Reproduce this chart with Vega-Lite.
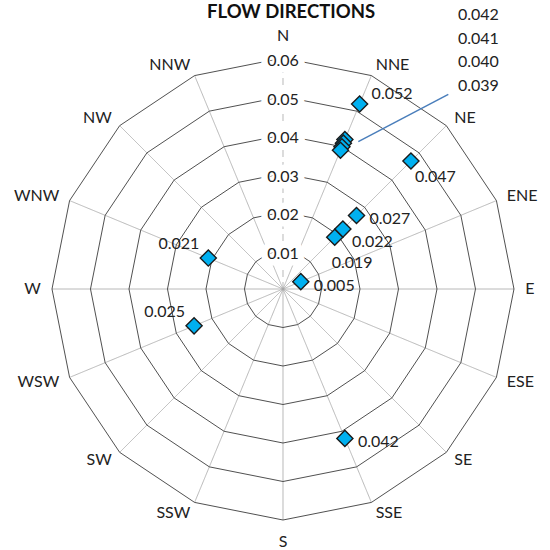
{
  "$schema": "https://vega.github.io/schema/vega-lite/v6.json",
  "width": 550,
  "height": 550,
  "autosize": {"type": "none"},
  "padding": 0,
  "background": "white",
  "config": {"view": {"stroke": null}, "text": {"font": "Lato", "fontSize": 16, "fill": "#222222"}},
  "datasets": {
    "dirs": [
      {"dir": "N", "a": 0, "ring": [0.01, 0.02, 0.03, 0.04, 0.05, 0.06]},
      {"dir": "NNE", "a": 22.5, "ring": [0.01, 0.02, 0.03, 0.04, 0.05, 0.06]},
      {"dir": "NE", "a": 45, "ring": [0.01, 0.02, 0.03, 0.04, 0.05, 0.06]},
      {"dir": "ENE", "a": 67.5, "ring": [0.01, 0.02, 0.03, 0.04, 0.05, 0.06]},
      {"dir": "E", "a": 90, "ring": [0.01, 0.02, 0.03, 0.04, 0.05, 0.06]},
      {"dir": "ESE", "a": 112.5, "ring": [0.01, 0.02, 0.03, 0.04, 0.05, 0.06]},
      {"dir": "SE", "a": 135, "ring": [0.01, 0.02, 0.03, 0.04, 0.05, 0.06]},
      {"dir": "SSE", "a": 157.5, "ring": [0.01, 0.02, 0.03, 0.04, 0.05, 0.06]},
      {"dir": "S", "a": 180, "ring": [0.01, 0.02, 0.03, 0.04, 0.05, 0.06]},
      {"dir": "SSW", "a": 202.5, "ring": [0.01, 0.02, 0.03, 0.04, 0.05, 0.06]},
      {"dir": "SW", "a": 225, "ring": [0.01, 0.02, 0.03, 0.04, 0.05, 0.06]},
      {"dir": "WSW", "a": 247.5, "ring": [0.01, 0.02, 0.03, 0.04, 0.05, 0.06]},
      {"dir": "W", "a": 270, "ring": [0.01, 0.02, 0.03, 0.04, 0.05, 0.06]},
      {"dir": "WNW", "a": 292.5, "ring": [0.01, 0.02, 0.03, 0.04, 0.05, 0.06]},
      {"dir": "NW", "a": 315, "ring": [0.01, 0.02, 0.03, 0.04, 0.05, 0.06]},
      {"dir": "NNW", "a": 337.5, "ring": [0.01, 0.02, 0.03, 0.04, 0.05, 0.06]},
      {"dir": "N", "a": 360, "ring": [0.01, 0.02, 0.03, 0.04, 0.05, 0.06]}
    ],
    "pts": [
      {"dir": "NNE", "a": 22.5, "v": 0.052},
      {"dir": "NNE", "a": 22.5, "v": 0.042},
      {"dir": "NNE", "a": 22.5, "v": 0.041},
      {"dir": "NNE", "a": 22.5, "v": 0.040},
      {"dir": "NNE", "a": 22.5, "v": 0.039},
      {"dir": "NE", "a": 45, "v": 0.047},
      {"dir": "NE", "a": 45, "v": 0.027},
      {"dir": "NE", "a": 45, "v": 0.022},
      {"dir": "NE", "a": 45, "v": 0.019},
      {"dir": "ENE", "a": 67.5, "v": 0.005},
      {"dir": "SSE", "a": 157.5, "v": 0.042},
      {"dir": "WSW", "a": 247.5, "v": 0.025},
      {"dir": "WNW", "a": 292.5, "v": 0.021}
    ]
  },
  "layer": [
    {
      "data": {"name": "dirs"},
      "transform": [
        {"filter": "datum.a < 360"},
        {"calculate": "0", "as": "o"},
        {"calculate": "0.06*sin(datum.a*PI/180)", "as": "sx"},
        {"calculate": "0.06*cos(datum.a*PI/180)", "as": "sy"}
      ],
      "mark": {"type": "rule", "color": "#a6a6a6", "strokeWidth": 0.8},
      "encoding": {
        "x": {"field": "o", "type": "quantitative", "scale": {"domain": [-0.073506, 0.069351], "nice": false, "zero": false}, "axis": null},
        "y": {"field": "o", "type": "quantitative", "scale": {"domain": [-0.067792, 0.075065], "nice": false, "zero": false}, "axis": null},
        "x2": {"field": "sx"},
        "y2": {"field": "sy"},
        "strokeDash": {"condition": {"test": "datum.a == 0", "value": [7, 5]}, "value": [1, 0]},
        "strokeWidth": {"condition": {"test": "datum.a == 0", "value": 1.5}, "value": 0.8}
      }
    },
    {
      "data": {"name": "dirs"},
      "transform": [
        {"flatten": ["ring"]},
        {"calculate": "datum.ring*sin(datum.a*PI/180)", "as": "gx"},
        {"calculate": "datum.ring*cos(datum.a*PI/180)", "as": "gy"}
      ],
      "mark": {"type": "line", "color": "#3c3c3c", "strokeWidth": 0.9},
      "encoding": {
        "x": {"field": "gx", "type": "quantitative"},
        "y": {"field": "gy", "type": "quantitative"},
        "detail": {"field": "ring", "type": "nominal"},
        "order": {"field": "a", "type": "quantitative"}
      }
    },
    {
      "data": {"name": "dirs"},
      "transform": [{"filter": "datum.a == 0"}, {"flatten": ["ring"]}, {"calculate": "0", "as": "o"}],
      "mark": {"type": "text", "fill": "white", "stroke": "white", "strokeWidth": 13, "strokeJoin": "round", "dy": 3, "baseline": "middle", "align": "center"},
      "encoding": {
        "x": {"field": "o", "type": "quantitative"},
        "y": {"field": "ring", "type": "quantitative"},
        "text": {"field": "ring", "type": "quantitative", "format": ".2f"}
      }
    },
    {
      "data": {"name": "dirs"},
      "transform": [{"filter": "datum.a == 0"}, {"flatten": ["ring"]}, {"calculate": "0", "as": "o"}],
      "mark": {"type": "text", "dy": 3, "baseline": "middle", "align": "center"},
      "encoding": {
        "x": {"field": "o", "type": "quantitative"},
        "y": {"field": "ring", "type": "quantitative"},
        "text": {"field": "ring", "type": "quantitative", "format": ".2f"}
      }
    },
    {
      "data": {"name": "dirs"},
      "transform": [
        {"filter": "datum.a > 0 && datum.a < 180"},
        {"calculate": "0.0629*sin(datum.a*PI/180)", "as": "lx"},
        {"calculate": "0.0629*cos(datum.a*PI/180)", "as": "ly"}
      ],
      "mark": {"type": "text", "align": "left", "baseline": "middle"},
      "encoding": {
        "x": {"field": "lx", "type": "quantitative"},
        "y": {"field": "ly", "type": "quantitative"},
        "text": {"field": "dir", "type": "nominal"}
      }
    },
    {
      "data": {"name": "dirs"},
      "transform": [
        {"filter": "datum.a > 180 && datum.a < 360"},
        {"calculate": "0.0629*sin(datum.a*PI/180)", "as": "lx"},
        {"calculate": "0.0629*cos(datum.a*PI/180)", "as": "ly"}
      ],
      "mark": {"type": "text", "align": "right", "baseline": "middle"},
      "encoding": {
        "x": {"field": "lx", "type": "quantitative"},
        "y": {"field": "ly", "type": "quantitative"},
        "text": {"field": "dir", "type": "nominal"}
      }
    },
    {
      "data": {"name": "dirs"},
      "transform": [
        {"filter": "datum.a == 0"},
        {"calculate": "0", "as": "lx"},
        {"calculate": "0.0629", "as": "ly"}
      ],
      "mark": {"type": "text", "align": "center", "baseline": "bottom", "dy": -3},
      "encoding": {
        "x": {"field": "lx", "type": "quantitative"},
        "y": {"field": "ly", "type": "quantitative"},
        "text": {"field": "dir", "type": "nominal"}
      }
    },
    {
      "data": {"name": "dirs"},
      "transform": [
        {"filter": "datum.a == 180"},
        {"calculate": "0", "as": "lx"},
        {"calculate": "-0.0629", "as": "ly"}
      ],
      "mark": {"type": "text", "align": "center", "baseline": "top", "dy": 3},
      "encoding": {
        "x": {"field": "lx", "type": "quantitative"},
        "y": {"field": "ly", "type": "quantitative"},
        "text": {"field": "dir", "type": "nominal"}
      }
    },
    {
      "data": {"name": "pts"},
      "transform": [
        {"filter": "datum.dir == 'NNE' && datum.v == 0.04"},
        {"calculate": "0.01956", "as": "x1"},
        {"calculate": "0.03826", "as": "y1"},
        {"calculate": "0.04294", "as": "x2"},
        {"calculate": "0.05057", "as": "y2"}
      ],
      "mark": {"type": "rule", "color": "#4a7ebb", "strokeWidth": 1.5},
      "encoding": {
        "x": {"field": "x1", "type": "quantitative"},
        "y": {"field": "y1", "type": "quantitative"},
        "x2": {"field": "x2"},
        "y2": {"field": "y2"}
      }
    },
    {
      "data": {"name": "pts"},
      "transform": [
        {"calculate": "datum.v*sin(datum.a*PI/180)", "as": "px"},
        {"calculate": "datum.v*cos(datum.a*PI/180)", "as": "py"}
      ],
      "mark": {"type": "point", "shape": "diamond", "size": 260, "filled": true, "fill": "#00b0f0", "stroke": "#1a1a1a", "strokeWidth": 1.4, "opacity": 1},
      "encoding": {
        "x": {"field": "px", "type": "quantitative"},
        "y": {"field": "py", "type": "quantitative"}
      }
    },
    {
      "data": {"name": "pts"},
      "transform": [
        {"filter": "datum.dir == 'NNE' && datum.v == 0.052"},
        {"calculate": "datum.v*sin(datum.a*PI/180)", "as": "px"},
        {"calculate": "datum.v*cos(datum.a*PI/180)", "as": "py"}
      ],
      "mark": {"type": "text", "align": "left", "baseline": "middle", "dx": 12, "dy": -10},
      "encoding": {
        "x": {"field": "px", "type": "quantitative"},
        "y": {"field": "py", "type": "quantitative"},
        "text": {"field": "v", "type": "quantitative", "format": ".3f"}
      }
    },
    {
      "data": {"name": "pts"},
      "transform": [
        {"filter": "(datum.dir == 'NE' && datum.v == 0.027) || datum.dir == 'SSE' || datum.dir == 'ENE'"},
        {"calculate": "datum.v*sin(datum.a*PI/180)", "as": "px"},
        {"calculate": "datum.v*cos(datum.a*PI/180)", "as": "py"}
      ],
      "mark": {"type": "text", "align": "left", "baseline": "middle", "dx": 13, "dy": 4},
      "encoding": {
        "x": {"field": "px", "type": "quantitative"},
        "y": {"field": "py", "type": "quantitative"},
        "text": {"field": "v", "type": "quantitative", "format": ".3f"}
      }
    },
    {
      "data": {"name": "pts"},
      "transform": [
        {"filter": "datum.dir == 'NE' && datum.v == 0.022"},
        {"calculate": "datum.v*sin(datum.a*PI/180)", "as": "px"},
        {"calculate": "datum.v*cos(datum.a*PI/180)", "as": "py"}
      ],
      "mark": {"type": "text", "align": "left", "baseline": "middle", "dx": 9, "dy": 13},
      "encoding": {
        "x": {"field": "px", "type": "quantitative"},
        "y": {"field": "py", "type": "quantitative"},
        "text": {"field": "v", "type": "quantitative", "format": ".3f"}
      }
    },
    {
      "data": {"name": "pts"},
      "transform": [
        {"filter": "datum.dir == 'NE' && datum.v == 0.047"},
        {"calculate": "datum.v*sin(datum.a*PI/180)", "as": "px"},
        {"calculate": "datum.v*cos(datum.a*PI/180)", "as": "py"}
      ],
      "mark": {"type": "text", "align": "left", "baseline": "middle", "dx": 4, "dy": 16},
      "encoding": {
        "x": {"field": "px", "type": "quantitative"},
        "y": {"field": "py", "type": "quantitative"},
        "text": {"field": "v", "type": "quantitative", "format": ".3f"}
      }
    },
    {
      "data": {"name": "pts"},
      "transform": [
        {"filter": "datum.dir == 'NE' && datum.v == 0.019"},
        {"calculate": "datum.v*sin(datum.a*PI/180)", "as": "px"},
        {"calculate": "datum.v*cos(datum.a*PI/180)", "as": "py"}
      ],
      "mark": {"type": "text", "align": "left", "baseline": "middle", "dx": -3, "dy": 26},
      "encoding": {
        "x": {"field": "px", "type": "quantitative"},
        "y": {"field": "py", "type": "quantitative"},
        "text": {"field": "v", "type": "quantitative", "format": ".3f"}
      }
    },
    {
      "data": {"name": "pts"},
      "transform": [
        {"filter": "datum.dir == 'WSW' || datum.dir == 'WNW'"},
        {"calculate": "datum.v*sin(datum.a*PI/180)", "as": "px"},
        {"calculate": "datum.v*cos(datum.a*PI/180)", "as": "py"}
      ],
      "mark": {"type": "text", "align": "right", "baseline": "middle", "dx": -9, "dy": -14},
      "encoding": {
        "x": {"field": "px", "type": "quantitative"},
        "y": {"field": "py", "type": "quantitative"},
        "text": {"field": "v", "type": "quantitative", "format": ".3f"}
      }
    },
    {
      "data": {"name": "pts"},
      "transform": [
        {"filter": "datum.dir == 'NNE' && datum.v < 0.045"},
        {"window": [{"op": "row_number", "as": "rk"}], "sort": [{"field": "v", "order": "descending"}]},
        {"calculate": "0.04545", "as": "lx"},
        {"calculate": "0.07117 - (datum.rk - 1)*0.006156", "as": "ly"}
      ],
      "mark": {"type": "text", "align": "left", "baseline": "middle"},
      "encoding": {
        "x": {"field": "lx", "type": "quantitative"},
        "y": {"field": "ly", "type": "quantitative"},
        "text": {"field": "v", "type": "quantitative", "format": ".3f"}
      }
    },
    {
      "data": {"name": "pts"},
      "transform": [
        {"filter": "datum.dir == 'NNE' && datum.v == 0.052"},
        {"calculate": "'FLOW DIRECTIONS'", "as": "t"},
        {"calculate": "0.0021", "as": "tx"},
        {"calculate": "0.0719", "as": "ty"}
      ],
      "mark": {"type": "text", "fontWeight": "bold", "fontSize": 18.5, "align": "center", "baseline": "middle", "fill": "#111111"},
      "encoding": {
        "x": {"field": "tx", "type": "quantitative"},
        "y": {"field": "ty", "type": "quantitative"},
        "text": {"field": "t", "type": "nominal"}
      }
    }
  ]
}
